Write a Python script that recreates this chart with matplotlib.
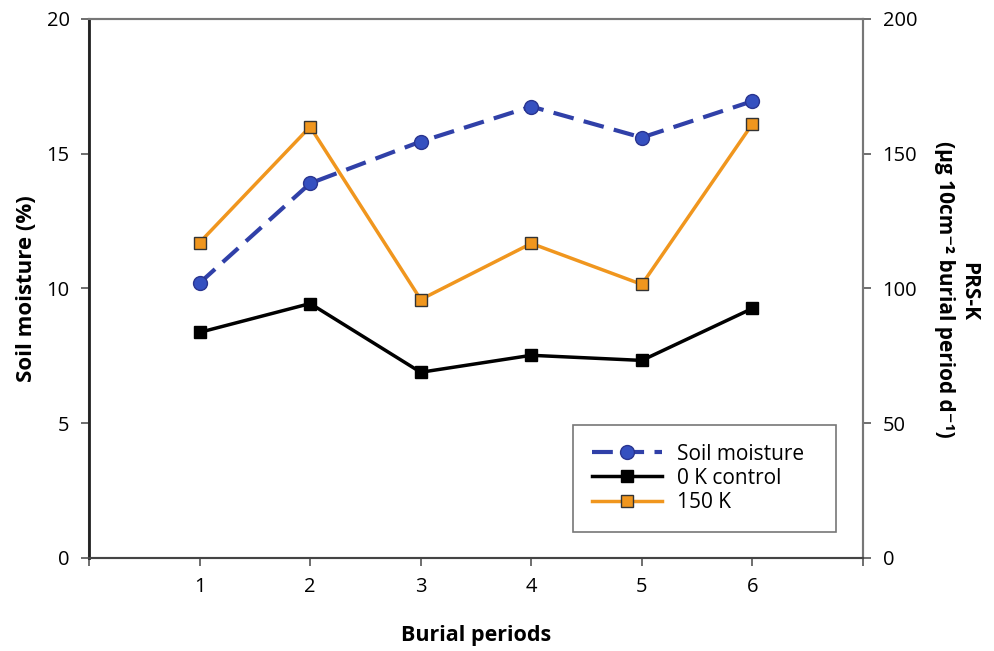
import numpy as np
import matplotlib
matplotlib.use('Agg')
from matplotlib import pyplot as plt
from matplotlib.lines import Line2D

plt.rcParams['font.family'] = ['Open Sans', 'DejaVu Sans']

periods = [1, 2, 3, 4, 5, 6]
soil_moisture = [10.2, 13.9, 15.45, 16.75, 15.6, 16.95]
k_control = [83.7, 94.4, 68.9, 75.2, 73.3, 92.6]
k_150 = [117.0, 160.0, 95.9, 116.7, 101.5, 161.1]

blue = '#3040a8'
orange = '#f0961e'
dash = (0, (5, 2.5))

fig = plt.figure(figsize=(9.95, 6.51), dpi=100)
ax = fig.add_axes([0.0894, 0.1429, 0.778, 0.828])
ax2 = ax.twinx()

ax.plot(periods, soil_moisture, color=blue, lw=3, ls=dash,
        marker='o', ms=10, mfc='#3550c0', mec='#2a3590', zorder=3)
ax2.plot(periods, k_control, color='black', lw=2.5, marker='s', ms=9,
         mfc='black', mec='black')
ax2.plot(periods, k_150, color=orange, lw=2.5, marker='s', ms=9,
         mfc=orange, mec='#333333', mew=1)

ax.set_zorder(ax2.get_zorder() + 1)
ax.patch.set_visible(False)

ax.set_xlim(0, 7)
ax.set_ylim(0, 20)
ax2.set_ylim(0, 200)
ax.set_xticks(range(0, 8))
ax.set_xticklabels(['', '1', '2', '3', '4', '5', '6', ''])
ax.set_yticks([0, 5, 10, 15, 20])
ax2.set_yticks([0, 50, 100, 150, 200])

for a in (ax, ax2):
    a.tick_params(labelsize=14.5, length=6, width=1.2, color='#555555', pad=8)
    for s in a.spines.values():
        s.set_color('#777777')
        s.set_linewidth(1.5)
ax.spines['left'].set_color('#222222')
ax.spines['left'].set_linewidth(2)
ax.spines['bottom'].set_color('#444444')

ax.set_ylabel('Soil moisture (%)', fontsize=16, fontweight='bold', labelpad=7)
ax.set_xlabel('Burial periods', fontsize=15.5, fontweight='bold', labelpad=20)
fig.text(0.973, 0.552, 'PRS-K', rotation=270, fontsize=15, fontweight='bold',
         ha='center', va='center')
fig.text(0.949, 0.555, '(µg 10cm\u207b\u00b2 burial period d\u207b\u00b9)',
         rotation=270, fontsize=15, fontweight='bold', ha='center', va='center')

handles = [
    Line2D([], [], color=blue, lw=3, ls=dash, marker='o', ms=10,
           mfc='#3550c0', mec='#2a3590'),
    Line2D([], [], color='black', lw=2.5, marker='s', ms=9),
    Line2D([], [], color=orange, lw=2.5, marker='s', ms=9, mfc=orange, mec='#333333'),
]
leg = ax.legend(handles, ['Soil moisture', '0 K control', '150 K'],
                loc='upper left', bbox_to_anchor=(0.625, 0.052, 0.340, 0.195),
                mode='expand', borderaxespad=0, fontsize=15,
                frameon=True, fancybox=False, edgecolor='#555555',
                handlelength=3.4, labelspacing=0.15, borderpad=0.9,
                handletextpad=0.7)
leg.get_frame().set_linewidth(1.2)

fig.savefig('out.png', dpi=100)
